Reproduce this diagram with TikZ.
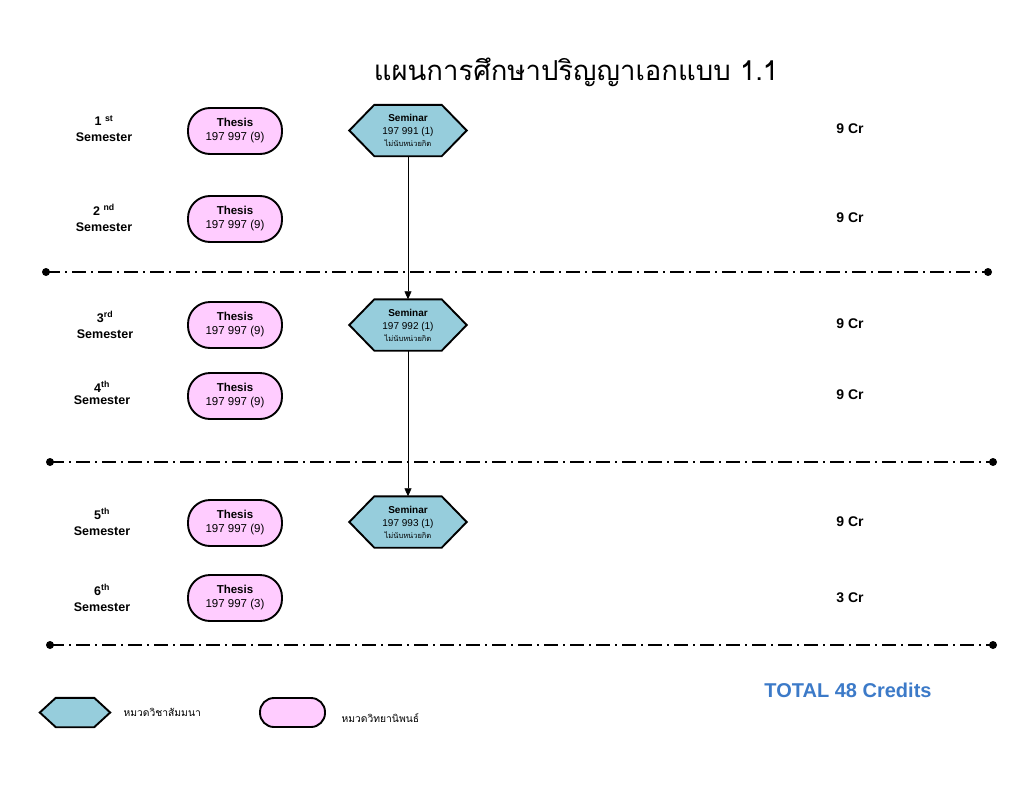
\documentclass[tikz,border=0pt]{standalone}
\usepackage{fontspec}
\setmainfont{Liberation Sans}
\newfontfamily\thai[Script=Thai]{Loma}
\usetikzlibrary{arrows.meta,calc,backgrounds}
\definecolor{pinkfill}{RGB}{255,204,255}
\definecolor{hexfill}{RGB}{150,205,220}
\definecolor{totalblue}{RGB}{60,122,200}
\begin{document}
\begin{tikzpicture}[x=1pt,y=-1pt,
  thesisbox/.style={draw,line width=1.9pt,fill=pinkfill,rounded corners=22pt,minimum width=94pt,minimum height=46pt,align=center,font=\fontsize{11.5}{14}\selectfont,inner sep=0pt},
  hexbox/.style={minimum width=67pt,minimum height=51pt,align=center,inner sep=0pt,font=\fontsize{10}{13}\selectfont},
  hexline/.style={draw,line width=1.9pt,fill=hexfill,line join=miter},
  semlabel/.style={align=center,font=\bfseries\fontsize{12.5}{16}\selectfont},
  crlabel/.style={font=\bfseries\fontsize{14}{16}\selectfont},
  divider/.style={line width=1.3pt,dash pattern=on 14pt off 5pt on 2pt off 5pt},
  enddot/.style={circle,fill=black,inner sep=0pt,minimum size=8pt},
  flow/.style={line width=0.6pt,-{Triangle[length=8pt,width=7pt]}},
  legendtext/.style={anchor=west,font=\thai\fontsize{10.3}{12}\selectfont}
]
\useasboundingbox (0,0) rectangle (1024,792);

% title
\node[font=\thai\fontsize{27.5}{32}\selectfont] (title) at (576,72) {แผนการศึกษาปริญญาเอกแบบ 1.1};

% semester labels
\node[semlabel] (l1) at (104,129) {1 \textsuperscript{st}\\Semester};
\node[semlabel] (l2) at (104,218) {2 \textsuperscript{nd}\\Semester};
\node[semlabel] (l3) at (105,325) {3\textsuperscript{rd}\\Semester};
\node[semlabel,font=\bfseries\fontsize{12.5}{12}\selectfont] (l4) at (102,393) {4\textsuperscript{th}\\Semester};
\node[semlabel] (l5) at (102,522) {5\textsuperscript{th}\\Semester};
\node[semlabel] (l6) at (102,598) {6\textsuperscript{th}\\Semester};

% thesis boxes
\node[thesisbox] (t1) at (235,131) {\textbf{Thesis}\\197 997 (9)};
\node[thesisbox] (t2) at (235,219) {\textbf{Thesis}\\197 997 (9)};
\node[thesisbox] (t3) at (235,325) {\textbf{Thesis}\\197 997 (9)};
\node[thesisbox] (t4) at (235,396) {\textbf{Thesis}\\197 997 (9)};
\node[thesisbox] (t5) at (235,523) {\textbf{Thesis}\\197 997 (9)};
\node[thesisbox] (t6) at (235,598) {\textbf{Thesis}\\197 997 (3)};

% seminar hexagons
\node[hexbox] (s1) at (408,130.5) {\textbf{Seminar}\\197 991 (1)\\[-1pt]{\thai\fontsize{7.5}{9}\selectfont ไม่นับหน่วยกิต}};
\node[hexbox] (s2) at (408,325) {\textbf{Seminar}\\197 992 (1)\\[-1pt]{\thai\fontsize{7.5}{9}\selectfont ไม่นับหน่วยกิต}};
\node[hexbox] (s3) at (408,522) {\textbf{Seminar}\\197 993 (1)\\[-1pt]{\thai\fontsize{7.5}{9}\selectfont ไม่นับหน่วยกิต}};

% legend
\node[minimum width=38pt,minimum height=29pt,inner sep=0pt] (lh) at (75,712.5) {};
\node[thesisbox,minimum width=65pt,minimum height=29pt,rounded corners=14pt] (lp) at (292.5,712.5) {};
\node[legendtext] (lht) at (120,712) {หมวดวิชาสัมมนา};
\node[legendtext] (lpt) at (338,718) {หมวดวิทยานิพนธ์};

\begin{scope}[on background layer]
\foreach \s in {s1,s2,s3}{
  \draw[hexline] (\s.north west) -- (\s.north east) -- ($(\s.east)+(25,0)$) -- (\s.south east) -- (\s.south west) -- ($(\s.west)+(-25,0)$) -- cycle;
}
\draw[hexline] (lh.north west) -- (lh.north east) -- ($(lh.east)+(16,0)$) -- (lh.south east) -- (lh.south west) -- ($(lh.west)+(-16,0)$) -- cycle;
\end{scope}

% credits
\node[crlabel] (c1) at (850,129) {9 Cr};
\node[crlabel] (c2) at (850,218) {9 Cr};
\node[crlabel] (c3) at (850,324) {9 Cr};
\node[crlabel] (c4) at (850,395) {9 Cr};
\node[crlabel] (c5) at (850,522) {9 Cr};
\node[crlabel] (c6) at (850,598) {3 Cr};
\node[font=\bfseries\fontsize{20}{24}\selectfont,text=totalblue] (total) at (848,690) {TOTAL 48 Credits};

% dividers
\node[enddot] (d1a) at (46,272) {};
\node[enddot] (d1b) at (988,272) {};
\node[enddot] (d2a) at (50,462) {};
\node[enddot] (d2b) at (993,462) {};
\node[enddot] (d3a) at (50,645) {};
\node[enddot] (d3b) at (993,645) {};
\draw[divider] (d1a.center) -- (d1b.center);
\draw[divider] (d2a.center) -- (d2b.center);
\draw[divider] (d3a.center) -- (d3b.center);

% flow arrows
\draw[flow] (s1.south) -- (s2.north);
\draw[flow] (s2.south) -- (s3.north);
\end{tikzpicture}
\end{document}
